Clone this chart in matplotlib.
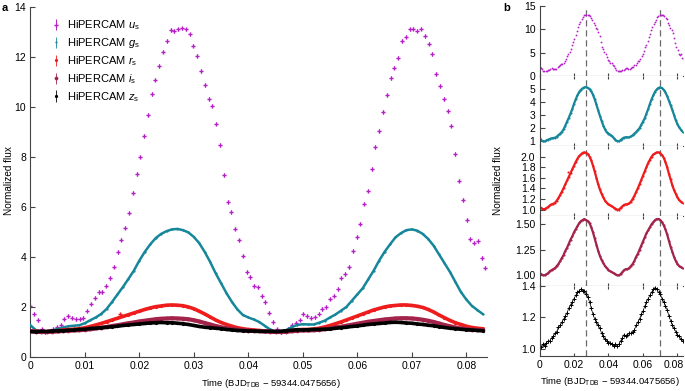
import matplotlib
matplotlib.use('Agg')
import matplotlib.pyplot as plt
import matplotlib.transforms as mtransforms
import numpy as np

plt.rcParams['font.family'] = ['Liberation Sans', 'DejaVu Sans']
plt.rcParams['mathtext.fontset'] = 'custom'
plt.rcParams['mathtext.rm'] = 'Liberation Sans'
plt.rcParams['mathtext.it'] = 'Liberation Sans:italic'

# u band: one point per exposure (cadence in days)
u_cadence = 0.000696
u_flux = [2.03, 1.73, 1.47, 1.10, 1.00, 1.02, 1.13, 1.18, 1.27, 1.53,
          1.64, 1.57, 1.51, 1.51, 1.56, 1.85, 2.13, 2.37, 2.60, 2.59,
          2.85, 3.15, 3.61, 4.20, 4.69, 5.17, 5.77, 6.57, 7.32, 8.01,
          8.83, 9.67, 10.51, 11.09, 11.63, 12.20, 12.63, 13.07, 13.03, 13.09,
          13.13, 13.09, 12.89, 12.44, 12.03, 11.44, 10.87, 10.31, 10.05, 9.33,
          8.48, 7.27, 6.20, 5.79, 5.13, 4.66, 4.05, 3.40, 3.20, 2.84,
          2.78, 2.43, 2.19, 1.77, 1.39, 1.10, 1.00, 1.02, 1.12, 1.27,
          1.36, 1.49, 1.73, 1.64, 1.57, 1.58, 1.73, 1.91, 2.00, 2.33,
          2.45, 2.72, 3.17, 3.31, 3.60, 4.24, 4.80, 5.33, 6.13, 6.65,
          7.52, 8.40, 9.03, 9.79, 10.47, 11.15, 11.57, 11.96, 12.63, 12.80,
          13.09, 13.12, 13.04, 13.12, 12.83, 12.52, 12.11, 11.32, 10.84, 10.32,
          9.84, 9.25, 8.12, 7.05, 6.27, 5.47, 4.71, 4.57, 4.64, 3.96, 3.57]
u_err = 0.07

# g, r, i, z read every 0.001 d
grid_step = 0.001
g_flux = [1.27, 1.08, 1.00, 0.99, 1.06, 1.12, 1.18, 1.23, 1.25, 1.27,
          1.35, 1.47, 1.58, 1.72, 1.92, 2.20, 2.50, 2.80, 3.12, 3.45,
          3.85, 4.20, 4.50, 4.75, 4.92, 5.03, 5.10, 5.12, 5.07, 4.98,
          4.80, 4.55, 4.20, 3.80, 3.35, 2.95, 2.55, 2.20, 1.90, 1.68,
          1.58, 1.50, 1.40, 1.25, 1.10, 1.02, 1.00, 1.08, 1.20, 1.28,
          1.31, 1.30, 1.30, 1.37, 1.45, 1.58, 1.70, 1.85, 2.00, 2.25,
          2.50, 2.75, 3.10, 3.45, 3.85, 4.20, 4.50, 4.78, 4.95, 5.07,
          5.10, 5.05, 4.92, 4.72, 4.45, 4.10, 3.75, 3.40, 3.00, 2.60,
          2.30, 2.05, 1.88, 1.72]
r_flux = [1.05, 1.03, 1.01, 1.01, 1.03, 1.05, 1.08, 1.10, 1.11, 1.13,
          1.17, 1.22, 1.28, 1.34, 1.41, 1.48, 1.55, 1.62, 1.69, 1.76,
          1.83, 1.90, 1.96, 2.01, 2.04, 2.07, 2.08, 2.07, 2.05, 2.00,
          1.93, 1.83, 1.72, 1.60, 1.48, 1.38, 1.30, 1.23, 1.17, 1.13,
          1.10, 1.08, 1.06, 1.04, 1.02, 1.00, 1.00, 1.03, 1.06, 1.09,
          1.10, 1.10, 1.12, 1.15, 1.20, 1.26, 1.33, 1.40, 1.48, 1.56,
          1.64, 1.72, 1.80, 1.88, 1.94, 2.00, 2.04, 2.06, 2.08, 2.08,
          2.06, 2.03, 1.98, 1.90, 1.80, 1.68, 1.57, 1.46, 1.37, 1.30,
          1.23, 1.18, 1.15, 1.13]
i_flux = [1.02, 1.01, 1.00, 1.00, 1.01, 1.02, 1.04, 1.05, 1.06, 1.07,
          1.09, 1.11, 1.14, 1.17, 1.20, 1.24, 1.27, 1.31, 1.35, 1.38,
          1.42, 1.45, 1.48, 1.51, 1.53, 1.54, 1.55, 1.54, 1.53, 1.51,
          1.47, 1.42, 1.36, 1.30, 1.24, 1.19, 1.15, 1.12, 1.09, 1.07,
          1.05, 1.04, 1.03, 1.02, 1.01, 1.00, 1.00, 1.01, 1.03, 1.05,
          1.06, 1.06, 1.07, 1.09, 1.11, 1.14, 1.18, 1.21, 1.25, 1.29,
          1.33, 1.37, 1.41, 1.44, 1.47, 1.50, 1.52, 1.54, 1.55, 1.55,
          1.54, 1.52, 1.49, 1.45, 1.40, 1.34, 1.28, 1.23, 1.18, 1.14,
          1.11, 1.09, 1.08, 1.07]
z_flux = [1.02, 1.01, 1.03, 1.02, 1.04, 1.05, 1.05, 1.07, 1.08, 1.10,
          1.11, 1.14, 1.15, 1.17, 1.19, 1.21, 1.23, 1.26, 1.28, 1.30,
          1.32, 1.34, 1.36, 1.37, 1.38, 1.37, 1.37, 1.35, 1.33, 1.30,
          1.26, 1.22, 1.19, 1.17, 1.15, 1.13, 1.10, 1.08, 1.06, 1.05,
          1.04, 1.04, 1.03, 1.02, 1.03, 1.02, 1.03, 1.05, 1.07, 1.09,
          1.08, 1.09, 1.10, 1.10, 1.11, 1.12, 1.15, 1.17, 1.19, 1.22,
          1.24, 1.27, 1.30, 1.32, 1.34, 1.36, 1.38, 1.39, 1.38, 1.36,
          1.35, 1.32, 1.30, 1.27, 1.25, 1.21, 1.18, 1.15, 1.13, 1.11,
          1.09, 1.08, 1.06, 1.05]
r_outlier_time = [0.0164]
r_outlier_flux = [1.71]

peak_times = [0.0270, 0.0697]

band_labels = [r'HiPERCAM $u_\mathrm{s}$', r'HiPERCAM $g_\mathrm{s}$',
               r'HiPERCAM $r_\mathrm{s}$', r'HiPERCAM $i_\mathrm{s}$',
               r'HiPERCAM $z_\mathrm{s}$']
band_colors = ['#b61fc8', '#16879a', '#ee1c1c', '#a3234a', '#000000']

a_xticks = [0, 0.01, 0.02, 0.03, 0.04, 0.05, 0.06, 0.07, 0.08]
a_xticklabels = ['0', '0.01', '0.02', '0.03', '0.04', '0.05', '0.06', '0.07', '0.08']
a_yticks = [0, 2, 4, 6, 8, 10, 12, 14]
b_xticks = [0, 0.02, 0.04, 0.06, 0.08]
b_xticklabels = ['0', '0.02', '0.04', '0.06', '0.08']
b_yticks = [[0, 5, 10, 15], [1, 2, 3, 4, 5], [1.0, 1.2, 1.4, 1.6, 1.8, 2.0],
            [1.00, 1.25, 1.50], [1.0, 1.2, 1.4]]
b_yticklabels = [['0', '5', '10', '15'], ['1', '2', '3', '4', '5'],
                 ['1.0', '1.2', '1.4', '1.6', '1.8', '2.0'],
                 ['1.00', '1.25', '1.50'], ['1.0', '1.2', '1.4']]
b_ylims = [(0, 15), (0.64, 5.97), (0.88, 2.2), (0.895, 1.58), (0.955, 1.4)]

u_time = np.arange(len(u_flux)) * u_cadence
time = np.arange(len(g_flux)) * grid_step
dense = [g_flux, r_flux, i_flux, z_flux]

W, H = 685, 391
fig = plt.figure(figsize=(W / 100, H / 100), dpi=100)


def box(x0, y0, x1, y1):
    # pixel box measured from the top-left corner
    return [x0 / W, 1 - y1 / H, (x1 - x0) / W, (y1 - y0) / H]


spine_col = '#444444'
tick_kw = dict(labelsize=7.5, direction='in', length=3.5, width=0.8, color=spine_col, pad=3)

# ---- panel a
ax = fig.add_axes(box(30.3, 6.7, 487, 357))
ax.errorbar(u_time, u_flux, yerr=u_err, fmt='P', ms=3.0, mew=0, color=band_colors[0],
            elinewidth=0.7, capsize=0, label=band_labels[0], zorder=2)
widths = [1.8, 2.6, 3.0, 2.6]
for k, flux in enumerate(dense):
    col = band_colors[k + 1]
    ax.plot(time, flux, '-', color=col, lw=widths[k], zorder=3 + k)
    ax.errorbar(time, flux, yerr=0.01, fmt='o', ms=widths[k] * 0.9, mew=0, color=col,
                elinewidth=0.6, capsize=0, label=band_labels[k + 1], zorder=3 + k)
    if k == 1:
        ax.errorbar(r_outlier_time, r_outlier_flux, yerr=0.06, fmt='P', ms=3, mew=0,
                    color=col, elinewidth=0.7, capsize=0, zorder=3)

ax.set_xlim(0, 0.0838)
ax.set_ylim(0, 14)
ax.set_xticks(a_xticks)
ax.set_xticklabels(a_xticklabels)
ax.set_yticks(a_yticks)
ax.tick_params(**tick_kw)
for s in ['top', 'right']:
    ax.spines[s].set_visible(False)
for s in ['left', 'bottom']:
    ax.spines[s].set_color(spine_col)
    ax.spines[s].set_linewidth(0.8)

ax.legend(loc='upper left', bbox_to_anchor=(47 / W, 1 - 14 / H),
          bbox_transform=fig.transFigure, frameon=False, fontsize=8,
          handlelength=0.8, handletextpad=0.6, labelspacing=0.36, borderaxespad=0,
          borderpad=0.4)

fig.text(9 / W, 1 - 181 / H, 'Normalized flux', rotation=90, ha='center', va='center', fontsize=7.2)
fig.text(271 / W, 1 - 383 / H, r'Time (BJD$_{\mathrm{TDB}}$ − 59344.0475656)',
         ha='center', va='center', fontsize=6.8)
fig.text(2 / W, 1 - 8 / H, 'a', weight='bold', ha='left', va='center', fontsize=8)

# ---- panel b
tops = [6, 76, 146, 216, 286]
axes_b = []
for k in range(5):
    bx = fig.add_axes(box(539.5, tops[k], 683, tops[k] + 70))
    axes_b.append(bx)
    col = band_colors[k]
    if k == 0:
        bx.plot(u_time, u_flux, 'o', ms=1.3, mew=0, color=col)
    elif k == 4:
        bx.plot(time, z_flux, '-', lw=0.5, color=col)
        bx.plot(time, z_flux, '+', ms=2.5, mew=0.7, color=col)
    else:
        bx.plot(time, dense[k - 1], '-', lw=1.6, color=col)
        bx.plot(time, dense[k - 1], 'o', ms=1.5, mew=0, color=col)
        if k == 2:
            bx.plot(r_outlier_time, r_outlier_flux, 'o', ms=1.5, mew=0, color=col)
    for t in peak_times:
        bx.axvline(t, color='#6a6a6a', ls=(0, (5, 3)), lw=0.9, zorder=0)
    bx.set_xlim(0, 0.0832)
    bx.set_ylim(*b_ylims[k])
    bx.set_yticks(b_yticks[k])
    bx.set_yticklabels(b_yticklabels[k])
    bx.set_xticks(b_xticks)
    bx.tick_params(**tick_kw)
    bx.tick_params(axis='x', top=(k > 0), length=2.5)
    if k < 4:
        bx.set_xticklabels([])
    else:
        bx.set_xticklabels(b_xticklabels)
        # keep the last label inside the figure edge
        last = bx.get_xticklabels()[-1]
        last.set_transform(last.get_transform() +
                           mtransforms.ScaledTranslation(-4 / 100, 0, fig.dpi_scale_trans))
    for s in ['top', 'right']:
        bx.spines[s].set_visible(False)
    for s in ['left', 'bottom']:
        bx.spines[s].set_color(spine_col)
        bx.spines[s].set_linewidth(0.8)

fig.text(498 / W, 1 - 181 / H, 'Normalized flux', rotation=90, ha='center', va='center', fontsize=7.2)
fig.text(610 / W, 1 - 382 / H, r'Time (BJD$_{\mathrm{TDB}}$ − 59344.0475656)',
         ha='center', va='center', fontsize=6.8)
fig.text(503 / W, 1 - 8 / H, 'b', weight='bold', ha='left', va='center', fontsize=8)

fig.savefig('out.png', dpi=100)
